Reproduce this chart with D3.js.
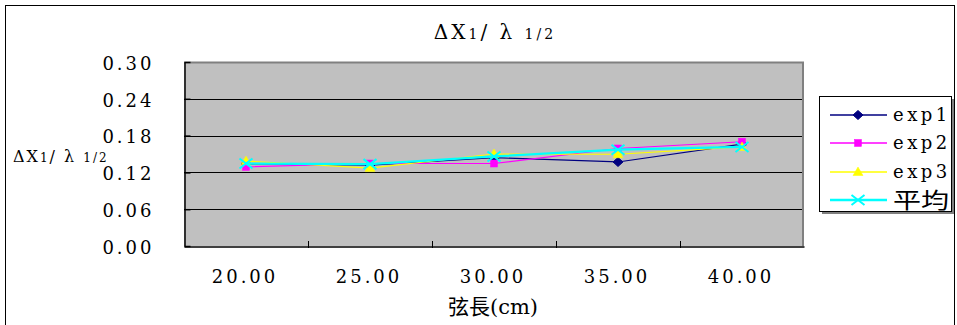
<!DOCTYPE html>
<html>
<head>
<meta charset="utf-8">
<script src="https://cdn.jsdelivr.net/npm/d3@7"></script>
<style>
  html, body { margin: 0; padding: 0; background: #fff; }
  svg { display: block; }
  text { font-family: "DejaVu Serif", "Liberation Serif", "Noto Sans CJK TC", serif; fill: #000; }
</style>
</head>
<body>
<svg id="chart" width="957" height="325"></svg>
<script>
// chord length categories (cm)
const categories = ["20.00", "25.00", "30.00", "35.00", "40.00"];
const exp1 = [0.134, 0.132, 0.144, 0.137, 0.166];
const exp2 = [0.129, 0.1345, 0.1345, 0.159, 0.170];
const exp3 = [0.1385, 0.127, 0.150, 0.1496, 0.1615];
const avg  = [0.1345, 0.1335, 0.146, 0.157, 0.1615];
const yTicks = [0.00, 0.06, 0.12, 0.18, 0.24, 0.30];
const seriesNames = ["exp1", "exp2", "exp3", "平均"];

const series = [
  { name: seriesNames[0], values: exp1, color: "#000080", width: 1.2, marker: "diamond" },
  { name: seriesNames[1], values: exp2, color: "#ff00ff", width: 1.2, marker: "square" },
  { name: seriesNames[2], values: exp3, color: "#ffff00", width: 1.2, marker: "triangle" },
  { name: seriesNames[3], values: avg,  color: "#00ffff", width: 2.2, marker: "cross" }
];

const FONT = "DejaVu Serif, Liberation Serif, Noto Sans CJK TC, serif";
const svg = d3.select("#chart");
const plot = { left: 184, right: 804, top: 62, bottom: 246 };

// outer chart frame
svg.append("rect").attr("x", 5.5).attr("y", 5.5).attr("width", 949).attr("height", 330)
  .attr("fill", "#fff").attr("stroke", "#000").attr("stroke-width", 1);

const x = d3.scaleBand().domain(categories).range([plot.left, plot.right]).padding(0);
const y = d3.scaleLinear().domain([0, 0.30]).range([plot.bottom, plot.top]);

// plot area
svg.append("rect").attr("x", plot.left).attr("y", plot.top)
  .attr("width", plot.right - plot.left).attr("height", plot.bottom - plot.top)
  .attr("fill", "#c0c0c0");
svg.append("path")
  .attr("d", `M${plot.left},${plot.top + 0.5}H${plot.right - 1}V${plot.bottom}`)
  .attr("fill", "none").attr("stroke", "#808080").attr("stroke-width", 2);

// horizontal gridlines
svg.append("g").selectAll("line").data(yTicks.filter(d => d > 0 && d < 0.30)).join("line")
  .attr("x1", plot.left).attr("x2", plot.right - 2)
  .attr("y1", d => Math.round(y(d)) + 0.5).attr("y2", d => Math.round(y(d)) + 0.5)
  .attr("stroke", "#000").attr("stroke-width", 1);

// y axis
const yAxis = svg.append("g").attr("transform", `translate(${plot.left + 0.5},0)`)
  .call(d3.axisLeft(y).tickValues(yTicks).tickFormat(d3.format(".2f")).tickSizeInner(-6).tickSizeOuter(0).tickPadding(30));
yAxis.select(".domain").attr("stroke", "#000").attr("stroke-width", 1.5);
yAxis.selectAll(".tick line").attr("stroke", "#000").attr("stroke-width", 1.5);
yAxis.selectAll(".tick text")
  .attr("font-size", 18).attr("letter-spacing", "3px").attr("dy", "0.4em")
  .style("font-family", FONT).attr("fill", "#000");

// x axis
const xAxis = svg.append("g").attr("transform", `translate(0,${plot.bottom + 0.5})`)
  .call(d3.axisBottom(x).tickSize(0).tickPadding(24));
xAxis.select(".domain").attr("stroke", "#000").attr("stroke-width", 1.5);
xAxis.selectAll(".tick text")
  .attr("font-size", 18).attr("letter-spacing", "3px").attr("dx", "-1")
  .style("font-family", FONT).attr("fill", "#000");
// category boundary tick marks
svg.append("g").selectAll("line").data(categories.slice(1)).join("line")
  .attr("x1", d => x(d) + 0.5).attr("x2", d => x(d) + 0.5)
  .attr("y1", plot.bottom - 5).attr("y2", plot.bottom + 2)
  .attr("stroke", "#000").attr("stroke-width", 1);

// marker drawing
function drawMarker(g, type, color, cx, cy, scale) {
  const s = scale || 1;
  if (type === "diamond") {
    g.append("path").attr("d", `M${cx},${cy - 4.5 * s}L${cx + 5 * s},${cy}L${cx},${cy + 4.5 * s}L${cx - 5 * s},${cy}Z`)
      .attr("fill", color).attr("stroke", color);
  } else if (type === "square") {
    g.append("rect").attr("x", cx - 3.5 * s).attr("y", cy - 3.5 * s).attr("width", 7 * s).attr("height", 7 * s)
      .attr("fill", color).attr("stroke", color).attr("stroke-width", 0.5);
  } else if (type === "triangle") {
    g.append("path").attr("d", `M${cx},${cy - 5 * s}L${cx + 5 * s},${cy + 3.5 * s}L${cx - 5 * s},${cy + 3.5 * s}Z`)
      .attr("fill", color).attr("stroke", color).attr("stroke-width", 0.5);
  } else if (type === "cross") {
    const r = 6.5 * s, h = 5 * s;
    g.append("path").attr("d", `M${cx - r},${cy - h}L${cx + r},${cy + h}M${cx - r},${cy + h}L${cx + r},${cy - h}`)
      .attr("stroke", color).attr("stroke-width", 2).attr("fill", "none");
  }
}

const line = d3.line().x((d, i) => x(categories[i]) + x.bandwidth() / 2).y(d => y(d));

// series lines then markers
series.forEach(s => {
  const g = svg.append("g");
  g.append("path").datum(s.values).attr("d", line)
    .attr("fill", "none").attr("stroke", s.color).attr("stroke-width", s.width);
  s.values.forEach((v, i) => drawMarker(g, s.marker, s.color, x(categories[i]) + x.bandwidth() / 2, y(v)));
});

// chart title
const title = svg.append("text").attr("x", 495).attr("y", 39).attr("text-anchor", "middle")
  .attr("font-size", 20).attr("letter-spacing", "3px");
title.append("tspan").text("ΔX");
title.append("tspan").attr("font-size", 14).text("1");
title.append("tspan").text("/ λ ");
title.append("tspan").attr("font-size", 14).text("1/2");

// y axis title
const ytitle = svg.append("text").attr("x", 13).attr("y", 162).attr("font-size", 16).attr("letter-spacing", "2px");
ytitle.append("tspan").text("ΔX");
ytitle.append("tspan").attr("font-size", 12).text("1");
ytitle.append("tspan").text("/ λ ");
ytitle.append("tspan").attr("font-size", 12).text("1/2");

// x axis title
svg.append("text").attr("x", 493).attr("y", 314).attr("text-anchor", "middle")
  .attr("font-size", 21).text("弦長(cm)");

// legend
const lg = svg.append("g");
lg.append("rect").attr("x", 822).attr("y", 99).attr("width", 132).attr("height", 115)
  .attr("fill", "#808080");
lg.append("rect").attr("x", 819.5).attr("y", 96.5).attr("width", 132).attr("height", 115)
  .attr("fill", "#fff").attr("stroke", "#000").attr("stroke-width", 1);
const legendRows = [115, 143, 172, 200];
series.forEach((s, i) => {
  const cy = legendRows[i];
  lg.append("line").attr("x1", 830).attr("x2", 887).attr("y1", cy).attr("y2", cy)
    .attr("stroke", s.color).attr("stroke-width", i === 3 ? 2.5 : 1.5);
  drawMarker(lg, s.marker, s.color, 858, cy, 1);
  const t = lg.append("text").attr("x", 893).attr("y", cy + (i === 3 ? 8 : 6))
    .attr("font-size", i === 3 ? 22 : 18).text(s.name);
  if (i === 3) t.attr("textLength", 56).attr("lengthAdjust", "spacingAndGlyphs");
  else t.attr("letter-spacing", "3.5px");
});
</script>
</body>
</html>
